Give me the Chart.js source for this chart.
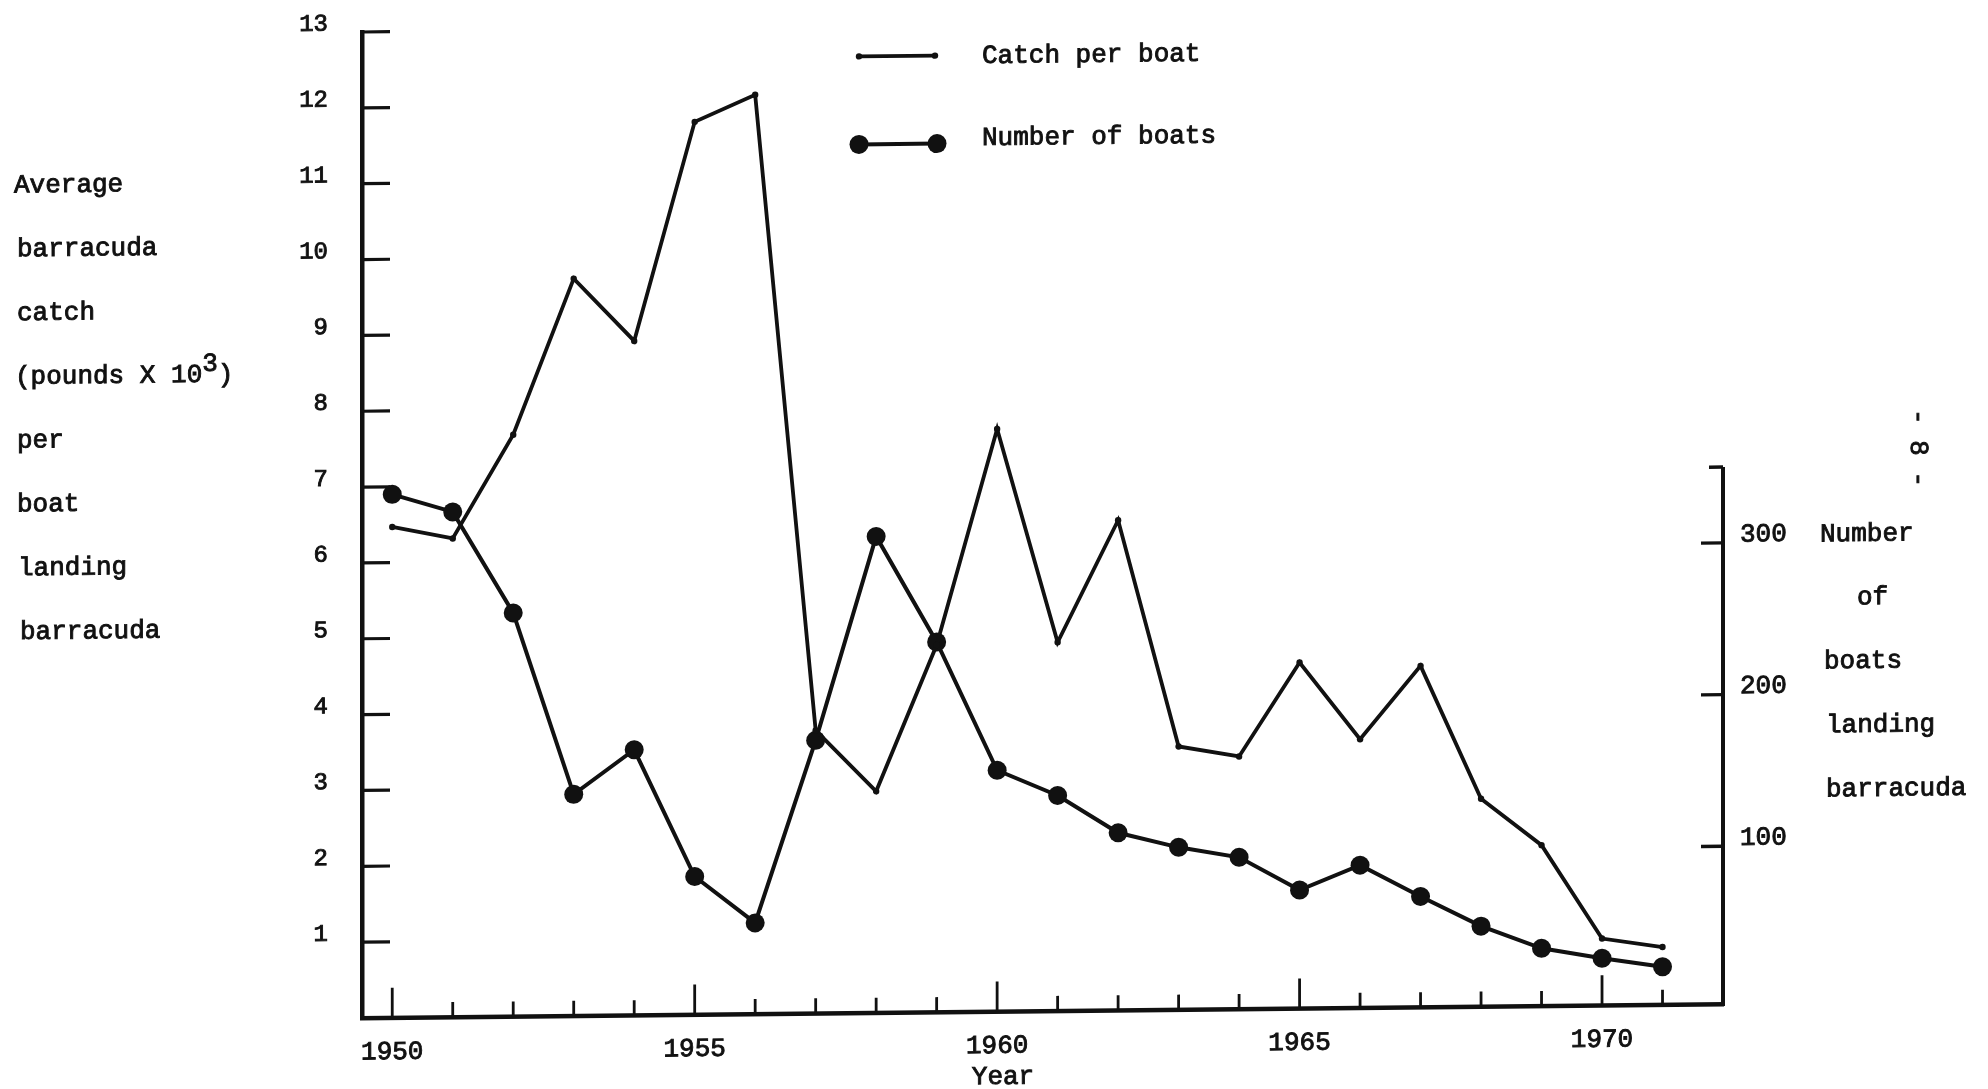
<!DOCTYPE html>
<html>
<head>
<meta charset="utf-8">
<title>Barracuda catch per boat and number of boats, 1950-1971</title>
<script src="https://cdn.jsdelivr.net/npm/chart.js@4.4.1/dist/chart.umd.min.js"></script>
<style>
  html, body { margin: 0; padding: 0; background: #fff; overflow: hidden; }
  #c { display: block; }
</style>
</head>
<body>
<canvas id="c" width="1988" height="1089"></canvas>
<script>
// ---- data -------------------------------------------------------------
const years = [1950, 1951, 1952, 1953, 1954, 1955, 1956, 1957, 1958, 1959, 1960,
               1961, 1962, 1963, 1964, 1965, 1966, 1967, 1968, 1969, 1970, 1971];

// average barracuda catch per boat landing barracuda (pounds x 10^3)
const catchPerBoat = [6.47, 6.31, 7.67, 9.72, 8.89, 11.77, 12.12, 3.73, 2.92, 4.84, 7.68,
                      4.86, 6.46, 3.47, 3.33, 4.56, 3.54, 4.50, 2.74, 2.12, 0.88, 0.76];

// number of boats landing barracuda
const boatsLanding = [341, 329, 262, 142, 171, 87, 56, 176, 310, 240, 155,
                      138, 113, 103, 96, 74, 90, 69, 49, 34, 27, 21];

const catchTicks = [1, 2, 3, 4, 5, 6, 7, 8, 9, 10, 11, 12, 13];
const boatTicks = [100, 200, 300];
const boatAxisEnd = 350;
const yearLabels = [1950, 1955, 1960, 1965, 1970];

const leftTitle = ['Average', 'barracuda', 'catch', '(pounds X 10^3)', 'per', 'boat', 'landing', 'barracuda'];
const rightTitle = ['Number', 'of', 'boats', 'landing', 'barracuda'];
const legendNames = ['Catch per boat', 'Number of boats'];
const xTitle = 'Year';
const pageMark = '- 8 -';

// ---- look -------------------------------------------------------------
const ink = '#111111';
const typeFont = '"Liberation Mono", "DejaVu Sans Mono", monospace';
const inkSpread = 0.9;   // typed letters are a little heavier than the plain face
const SLANT = 0.01024;   // the typed sheet sits slightly askew
const PIVOT = 362;
const lift = x => (x - PIVOT) * SLANT;

function seg(ctx, x1, y1, x2, y2) {
  ctx.beginPath(); ctx.moveTo(x1, y1); ctx.lineTo(x2, y2); ctx.stroke();
}
function dot(ctx, x, y, r) {
  ctx.beginPath(); ctx.arc(x, y, r, 0, Math.PI * 2); ctx.fill();
}
function typed(ctx, text, x, y) {
  ctx.fillText(text, x, y);
  ctx.strokeText(text, x, y);
}

const sheet = {
  id: 'sheet',
  beforeDraw(chart) {
    const ctx = chart.ctx;
    ctx.save();
    ctx.transform(1, -SLANT, 0, 1, 0, SLANT * PIVOT);
  },
  beforeDatasetsDraw(chart) {
    const ctx = chart.ctx;
    const { x, y, y2 } = chart.scales;
    const a = chart.chartArea;
    ctx.save();
    ctx.strokeStyle = ink;
    ctx.lineCap = 'butt';
    // catch axis tick marks, pointing inward
    ctx.lineWidth = 3.2;
    catchTicks.forEach(v => {
      const py = y.getPixelForValue(v);
      seg(ctx, a.left, py, a.left + 28, py);
    });
    // year tick marks, long ones every five years
    ctx.lineWidth = 2.8;
    years.forEach(yr => {
      const px = x.getPixelForValue(yr);
      const len = yearLabels.includes(yr) ? 30 : 15;
      seg(ctx, px, a.bottom, px, a.bottom - len);
    });
    // boats axis: a short axis on the right
    ctx.lineWidth = 4;
    const topY = y2.getPixelForValue(boatAxisEnd);
    seg(ctx, a.right, a.bottom + 2, a.right, topY);
    ctx.lineWidth = 3.4;
    boatTicks.forEach(v => {
      const py = y2.getPixelForValue(v);
      seg(ctx, a.right, py, a.right - 22, py);
    });
    seg(ctx, a.right, topY, a.right - 14, topY);
    ctx.restore();
  },
  afterDraw(chart) {
    const ctx = chart.ctx;
    const sets = chart.data.datasets;
    ctx.save();
    ctx.fillStyle = ink;
    ctx.strokeStyle = ink;
    ctx.lineWidth = inkSpread;
    ctx.font = '26px ' + typeFont;
    ctx.textBaseline = 'middle';
    ctx.textAlign = 'left';

    // left title, one word group per typed line
    const lx = [14, 17, 17, 15, 17, 17, 18, 20];
    leftTitle.forEach((line, i) => {
      const yy = 185 + i * 63.8 + lift(80);
      const parts = line.split('^');
      let cx = lx[i];
      typed(ctx, parts[0], cx, yy);
      cx += ctx.measureText(parts[0]).width;
      if (parts.length > 1) {
        const sup = parts[1].charAt(0);
        typed(ctx, sup, cx, yy - 11);
        cx += ctx.measureText(sup).width;
        typed(ctx, parts[1].slice(1), cx, yy);
      }
    });

    // right title
    const rx = [1820, 1857, 1824, 1826, 1826];
    const ry = [534, 597, 661, 725, 789];
    rightTitle.forEach((line, i) => {
      typed(ctx, line, rx[i], ry[i] + lift(rx[i] + 50));
    });

    // page number typed sideways
    ctx.save();
    ctx.translate(1918, 448 + lift(1918));
    ctx.rotate(Math.PI / 2);
    ctx.textAlign = 'center';
    typed(ctx, pageMark, 0, 0);
    ctx.restore();

    // x axis title
    ctx.textAlign = 'center';
    typed(ctx, xTitle, 1003, 1077 + lift(1003));

    // legend
    ctx.textAlign = 'left';
    const r1 = 56 + lift(897);
    ctx.lineWidth = sets[0].borderWidth;
    seg(ctx, 859, r1, 935, r1);
    dot(ctx, 859, r1, sets[0].pointRadius);
    dot(ctx, 935, r1, sets[0].pointRadius);
    const r2 = 144 + lift(898);
    ctx.lineWidth = sets[1].borderWidth;
    seg(ctx, 859, r2, 937, r2);
    dot(ctx, 859, r2, sets[1].pointRadius);
    dot(ctx, 937, r2, sets[1].pointRadius);
    ctx.lineWidth = inkSpread;
    typed(ctx, legendNames[0], 982, 55 + lift(1100));
    typed(ctx, legendNames[1], 982, 137 + lift(1100));

    ctx.restore();
    // close the slant opened in beforeDraw
    ctx.restore();
  }
};

const pts = vals => years.map((yr, i) => ({ x: yr, y: vals[i] }));
const noPad = s => { s.paddingTop = 0; s.paddingBottom = 0; };

new Chart(document.getElementById('c').getContext('2d'), {
  type: 'line',
  data: {
    datasets: [
      {
        label: legendNames[0],
        data: pts(catchPerBoat),
        yAxisID: 'y',
        borderColor: ink,
        backgroundColor: ink,
        borderWidth: 3.8,
        pointRadius: 3.2,
        pointHoverRadius: 3.2,
        pointBorderWidth: 0,
        pointBackgroundColor: ink,
        tension: 0,
        fill: false,
        clip: false
      },
      {
        label: legendNames[1],
        data: pts(boatsLanding),
        yAxisID: 'y2',
        borderColor: ink,
        backgroundColor: ink,
        borderWidth: 4,
        pointRadius: 9.5,
        pointHoverRadius: 9.5,
        pointBorderWidth: 0,
        pointBackgroundColor: ink,
        tension: 0,
        fill: false,
        clip: false
      }
    ]
  },
  options: {
    responsive: false,
    animation: false,
    events: [],
    layout: { padding: { top: 32, left: 0, right: 0, bottom: 0 } },
    plugins: { legend: { display: false }, tooltip: { enabled: false }, title: { display: false } },
    scales: {
      x: {
        type: 'linear',
        position: 'bottom',
        min: 1949.5,
        max: 1972,
        afterBuildTicks: s => { s.ticks = yearLabels.map(v => ({ value: v })); },
        afterFit: s => { s.height = 71; s.paddingLeft = 0; s.paddingRight = 0; },
        grid: { display: false, drawTicks: false },
        border: { display: true, color: ink, width: 4.5 },
        ticks: {
          color: ink,
          font: { family: typeFont, size: 26 },
          textStrokeColor: ink,
          textStrokeWidth: inkSpread,
          padding: 19,
          autoSkip: false,
          maxRotation: 0,
          callback: v => String(v)
        }
      },
      y: {
        position: 'left',
        min: 0,
        max: 13,
        afterBuildTicks: s => { s.ticks = catchTicks.map(v => ({ value: v })); },
        afterFit: s => { s.width = 362; noPad(s); },
        grid: { display: false, drawTicks: false },
        border: { display: true, color: ink, width: 4.5 },
        ticks: {
          color: ink,
          font: { family: typeFont, size: 24 },
          textStrokeColor: ink,
          textStrokeWidth: inkSpread,
          padding: 34,
          labelOffset: -8,
          autoSkip: false,
          callback: v => String(v)
        }
      },
      y2: {
        position: 'right',
        min: -4,
        max: 646,
        afterBuildTicks: s => { s.ticks = boatTicks.map(v => ({ value: v })); },
        afterFit: s => { s.width = 265; noPad(s); },
        grid: { display: false, drawTicks: false },
        border: { display: false },
        ticks: {
          color: ink,
          font: { family: typeFont, size: 26 },
          textStrokeColor: ink,
          textStrokeWidth: inkSpread,
          padding: 17,
          labelOffset: -8,
          autoSkip: false,
          callback: v => String(v)
        }
      }
    }
  },
  plugins: [sheet]
});
</script>
</body>
</html>
